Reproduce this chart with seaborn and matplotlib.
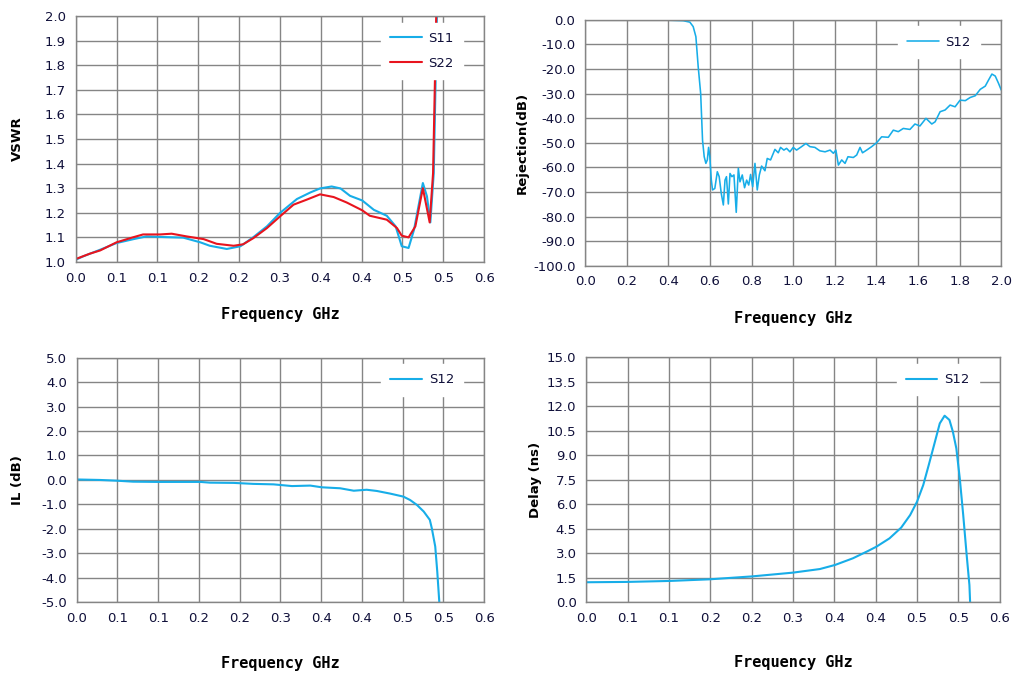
import matplotlib
matplotlib.use('Agg')
import matplotlib.pyplot as plt
import numpy as np
import pandas as pd
import seaborn as sns
from matplotlib.ticker import FormatStrFormatter, MultipleLocator

BLUE = '#17ADE8'
RED = '#E8141E'
GRID = '#858585'
TICK_TXT = '#10103A'

# --- VSWR (top left) ---
vswr_f_s11 = [0.0, 0.011, 0.036, 0.060, 0.085, 0.104, 0.134, 0.158, 0.183, 0.197, 0.222, 0.242,
              0.261, 0.281, 0.300, 0.325, 0.345, 0.359, 0.376, 0.389, 0.403, 0.421, 0.438, 0.457,
              0.470, 0.479, 0.489, 0.497, 0.510, 0.516, 0.521, 0.526, 0.531]
vswr_s11 = [1.009, 1.023, 1.050, 1.077, 1.093, 1.104, 1.101, 1.099, 1.080, 1.066, 1.053, 1.064,
            1.101, 1.145, 1.199, 1.256, 1.283, 1.299, 1.307, 1.299, 1.269, 1.250, 1.212, 1.188,
            1.145, 1.064, 1.057, 1.131, 1.321, 1.267, 1.161, 1.361, 2.05]
vswr_f_s22 = [0.0, 0.021, 0.036, 0.060, 0.085, 0.099, 0.124, 0.141, 0.163, 0.188, 0.207, 0.232,
              0.246, 0.261, 0.281, 0.300, 0.320, 0.339, 0.359, 0.379, 0.398, 0.421, 0.432, 0.457,
              0.472, 0.479, 0.489, 0.499, 0.510, 0.520, 0.525, 0.530]
vswr_s22 = [1.012, 1.034, 1.047, 1.080, 1.101, 1.112, 1.112, 1.115, 1.104, 1.093, 1.074, 1.066,
            1.072, 1.097, 1.138, 1.185, 1.233, 1.253, 1.275, 1.264, 1.242, 1.210, 1.188, 1.172,
            1.138, 1.107, 1.100, 1.145, 1.300, 1.161, 1.361, 2.05]

# --- Rejection (top right) ---
rej_f = [0.0, 0.2, 0.4, 0.471, 0.503, 0.519, 0.532, 0.543, 0.555, 0.564, 0.572, 0.580, 0.587,
         0.593, 0.599, 0.606, 0.612, 0.623, 0.635, 0.644, 0.654, 0.664, 0.672, 0.679, 0.688,
         0.696, 0.705, 0.715, 0.726, 0.736, 0.744, 0.755, 0.766, 0.776, 0.786, 0.795, 0.805,
         0.816, 0.827, 0.837, 0.848, 0.864, 0.875, 0.891, 0.912, 0.928, 0.939, 0.955, 0.968,
         0.984, 1.000, 1.016, 1.040, 1.061, 1.080, 1.104, 1.128, 1.153, 1.177, 1.193, 1.205,
         1.217, 1.233, 1.249, 1.263, 1.289, 1.305, 1.321, 1.333, 1.353, 1.377, 1.401, 1.425,
         1.457, 1.481, 1.505, 1.529, 1.561, 1.585, 1.609, 1.638, 1.666, 1.682, 1.706, 1.730,
         1.754, 1.778, 1.802, 1.827, 1.851, 1.875, 1.899, 1.923, 1.939, 1.955, 1.971, 1.987, 2.0]
rej_s12 = [-0.1, -0.1, -0.2, -0.4, -1.0, -2.8, -6.9, -19.0, -30.0, -49.0, -55.7, -58.4, -57.0,
           -51.9, -55.7, -65.0, -69.2, -68.6, -61.8, -63.8, -70.6, -75.3, -65.2, -63.8, -74.9,
           -62.5, -63.8, -63.1, -78.3, -60.4, -65.9, -63.1, -68.3, -65.2, -67.2, -62.9, -67.9,
           -58.4, -69.2, -63.1, -59.5, -61.4, -56.4, -57.0, -52.7, -54.1, -51.9, -53.0, -52.3,
           -53.7, -51.9, -53.0, -51.6, -50.3, -51.6, -51.9, -53.3, -53.7, -53.0, -54.3, -53.0,
           -59.1, -57.0, -58.4, -55.7, -56.0, -55.0, -51.9, -54.1, -53.0, -51.6, -50.0, -47.6,
           -47.8, -44.9, -45.5, -44.2, -44.6, -42.4, -43.2, -40.1, -42.4, -41.5, -37.4, -36.7,
           -34.7, -35.4, -32.7, -32.9, -31.6, -30.9, -28.3, -27.0, -24.5, -22.1, -22.9, -25.9, -28.6]

# --- Insertion loss (bottom left) ---
il_f = [0.0, 0.034, 0.059, 0.083, 0.118, 0.157, 0.182, 0.196, 0.231, 0.260, 0.290, 0.317,
        0.344, 0.361, 0.388, 0.408, 0.427, 0.442, 0.462, 0.481, 0.491, 0.501, 0.511, 0.520,
        0.523, 0.528, 0.531, 0.534]
il_s12 = [0.02, 0.0, -0.03, -0.07, -0.08, -0.08, -0.08, -0.11, -0.12, -0.16, -0.18, -0.25,
          -0.23, -0.30, -0.34, -0.44, -0.40, -0.45, -0.56, -0.68, -0.82, -1.02, -1.29, -1.63,
          -1.98, -2.72, -3.75, -5.0]

# --- Group delay (bottom right) ---
dly_f = [0.0, 0.0585, 0.121, 0.179, 0.241, 0.300, 0.339, 0.361, 0.387, 0.409, 0.421, 0.440,
         0.457, 0.470, 0.480, 0.489, 0.497, 0.506, 0.513, 0.520, 0.527, 0.532, 0.537, 0.542,
         0.547, 0.552, 0.556, 0.557]
dly_s12 = [1.21, 1.23, 1.29, 1.39, 1.57, 1.80, 2.02, 2.27, 2.68, 3.13, 3.39, 3.90, 4.56, 5.33,
           6.15, 7.17, 8.40, 9.83, 10.95, 11.42, 11.16, 10.44, 9.42, 7.58, 5.33, 2.88, 1.04, 0.0]


def _df(pairs):
    frames = [pd.DataFrame({'f': f, 'v': v, 'trace': name}) for name, f, v in pairs]
    return pd.concat(frames, ignore_index=True)


def _style(ax, xlim, xstep, ylim, ystep, ylabel, ylabel_x, xlabel_pad, legend_x):
    ax.set_xlim(*xlim)
    ax.set_ylim(*ylim)
    ax.xaxis.set_major_locator(MultipleLocator(xstep))
    ax.yaxis.set_major_locator(MultipleLocator(ystep))
    ax.xaxis.set_major_formatter(FormatStrFormatter('%.1f'))
    ax.yaxis.set_major_formatter(FormatStrFormatter('%.1f'))
    ax.grid(True, color=GRID, linewidth=1.0)
    ax.set_axisbelow(True)
    for s in ax.spines.values():
        s.set_color(GRID)
        s.set_linewidth(1.0)
    ax.tick_params(axis='both', length=4, width=1, color=GRID, labelcolor=TICK_TXT,
                   labelsize=9.5, direction='out', pad=3)
    ax.set_ylabel(ylabel, fontsize=9.5, fontweight='bold', color='black')
    ax.yaxis.set_label_coords(ylabel_x, 0.5)
    ax.set_xlabel('Frequency GHz', family=['DejaVu Sans Mono'], fontweight='bold',
                  fontsize=11, color='black', labelpad=xlabel_pad)
    leg = ax.legend(loc='upper right', frameon=True, fancybox=False, fontsize=9.5,
                    handlelength=2.4, handletextpad=0.5, borderpad=0.7, labelspacing=0.9,
                    bbox_to_anchor=(legend_x, 1.0))
    leg.get_frame().set_facecolor('white')
    leg.get_frame().set_edgecolor('white')
    leg.get_frame().set_alpha(1.0)
    for t in leg.get_texts():
        t.set_color(TICK_TXT)


sns.set_style('white')
plt.rcParams['font.family'] = ['Verdana', 'DejaVu Sans']

fig = plt.figure(figsize=(10.16, 6.77), dpi=100)
ax_tl = fig.add_axes([0.0745, 0.613, 0.402, 0.3634])
ax_tr = fig.add_axes([0.576, 0.6075, 0.4095, 0.3634])
ax_bl = fig.add_axes([0.0755, 0.1104, 0.401, 0.3613])
ax_br = fig.add_axes([0.577, 0.1108, 0.407, 0.3614])

x06 = np.linspace(0, 0.6, 11)

vswr = _df([('S11', vswr_f_s11, vswr_s11), ('S22', vswr_f_s22, vswr_s22)])
sns.lineplot(data=vswr, x='f', y='v', hue='trace', palette={'S11': BLUE, 'S22': RED},
             linewidth=1.5, ax=ax_tl, errorbar=None)
_style(ax_tl, (0, 0.6), 0.06, (1.0, 2.0), 0.1, 'VSWR', -0.126, 16, 0.965)
ax_tl.set_xticks(x06)

rej = _df([('S12', rej_f, rej_s12)])
sns.lineplot(data=rej, x='f', y='v', hue='trace', palette={'S12': BLUE},
             linewidth=1.15, ax=ax_tr, errorbar=None)
_style(ax_tr, (0, 2.0), 0.2, (-100, 0), 10, 'Rejection(dB)', -0.135, 16, 0.965)

il = _df([('S12', il_f, il_s12)])
sns.lineplot(data=il, x='f', y='v', hue='trace', palette={'S12': BLUE},
             linewidth=1.5, ax=ax_bl, errorbar=None)
_style(ax_bl, (0, 0.6), 0.06, (-5, 5), 1, 'IL (dB)', -0.129, 22, 0.965)
ax_bl.set_xticks(x06)

dly = _df([('S12', dly_f, dly_s12)])
sns.lineplot(data=dly, x='f', y='v', hue='trace', palette={'S12': BLUE},
             linewidth=1.5, ax=ax_br, errorbar=None)
_style(ax_br, (0, 0.6), 0.06, (0, 15), 1.5, 'Delay (ns)', -0.108, 22, 0.965)
ax_br.set_xticks(x06)

fig.savefig('out.png', dpi=100)
